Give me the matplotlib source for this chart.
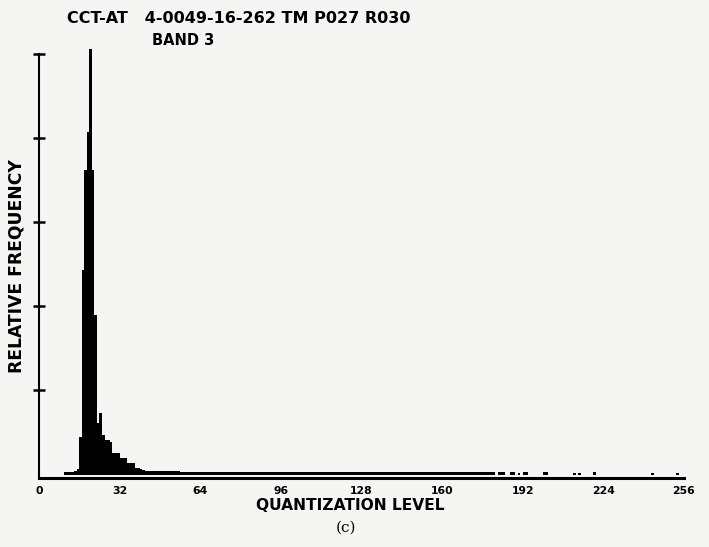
import numpy as np
import matplotlib.pyplot as plt

# relative frequency for each quantization level, 0..255 (16 per row)
freq = [
    0, 0, 0, 0, 0, 0, 0, 0, 0, 0, 0.006, 0.006, 0.006, 0.007, 0.008, 0.014,
    0.089, 0.486, 0.724, 0.815, 1.012, 0.724, 0.379, 0.122, 0.146, 0.094, 0.082, 0.082, 0.077, 0.051, 0.051, 0.051,
    0.039, 0.039, 0.039, 0.027, 0.027, 0.027, 0.015, 0.015, 0.013, 0.012, 0.009, 0.009, 0.008, 0.008, 0.008, 0.008,
    0.008, 0.008, 0.008, 0.008, 0.008, 0.008, 0.008, 0.008, 0.007, 0.007, 0.007, 0.007, 0.007, 0.007, 0.007, 0.007,
    0.007, 0.007, 0.007, 0.007, 0.007, 0.007, 0.007, 0.007, 0.006, 0.006, 0.006, 0.006, 0.006, 0.006, 0.006, 0.006,
    0.006, 0.006, 0.006, 0.006, 0.006, 0.006, 0.006, 0.006, 0.006, 0.006, 0.006, 0.006, 0.006, 0.006, 0.006, 0.006,
    0.006, 0.006, 0.006, 0.006, 0.006, 0.006, 0.006, 0.006, 0.006, 0.006, 0.006, 0.006, 0.006, 0.006, 0.006, 0.006,
    0.006, 0.006, 0.006, 0.006, 0.006, 0.006, 0.006, 0.006, 0.006, 0.006, 0.006, 0.006, 0.006, 0.006, 0.006, 0.006,
    0.006, 0.006, 0.006, 0.006, 0.006, 0.006, 0.006, 0.006, 0.006, 0.006, 0.006, 0.006, 0.006, 0.006, 0.006, 0.006,
    0.006, 0.006, 0.006, 0.006, 0.006, 0.006, 0.006, 0.006, 0.006, 0.006, 0.006, 0.006, 0.006, 0.006, 0.006, 0.006,
    0.007, 0.007, 0.007, 0.007, 0.007, 0.007, 0.007, 0.007, 0.007, 0.007, 0.007, 0.007, 0.007, 0.007, 0.007, 0.007,
    0.007, 0.007, 0.007, 0.007, 0.007, 0, 0.005, 0.005, 0.005, 0, 0, 0.005, 0.005, 0, 0.004, 0,
    0.005, 0.005, 0, 0, 0, 0, 0, 0, 0.005, 0.005, 0, 0, 0, 0, 0, 0,
    0, 0, 0, 0, 0.004, 0, 0.004, 0, 0, 0, 0, 0, 0.005, 0, 0, 0,
    0, 0, 0, 0, 0, 0, 0, 0, 0, 0, 0, 0, 0, 0, 0, 0,
    0, 0, 0, 0.003, 0, 0, 0, 0, 0, 0, 0, 0, 0, 0.003, 0, 0,
]
levels = np.arange(len(freq))

x_ticks = [0, 32, 64, 96, 128, 160, 192, 224, 256]
y_ticks = [0.2, 0.4, 0.6, 0.8, 1.0]

paper = '#f5f5f3'

fig = plt.figure(figsize=(7.09, 5.47), dpi=100, facecolor=paper)
ax = fig.add_axes([0.055, 0.127, 0.9097, 0.7972], facecolor=paper)

ax.bar(levels, freq, width=1.0, align='edge', color='black', linewidth=0)

ax.set_xlim(0, 256)
ax.set_ylim(-0.007, 1.03)

for side in ['top', 'right']:
    ax.spines[side].set_visible(False)
ax.spines['left'].set_bounds(-0.007, 1.0)
ax.spines['left'].set_linewidth(1.5)
ax.spines['bottom'].set_linewidth(2.2)

ax.set_yticks(y_ticks)
ax.set_yticklabels([])
ax.tick_params(axis='y', direction='inout', length=9, width=1.8)

ax.set_xticks(x_ticks)
ax.set_xticklabels([str(t) for t in x_ticks], fontsize=7.8, fontweight='bold')
ax.tick_params(axis='x', length=0, pad=6)

# axis titles placed by hand, the x one sits left of the axis centre
fig.text(350 / 709, 1 - 506 / 547, 'QUANTIZATION LEVEL', fontsize=11.2,
         fontweight='bold', ha='center', va='center')
fig.text(17 / 709, 1 - 266 / 547, 'RELATIVE FREQUENCY', fontsize=12.3,
         fontweight='bold', rotation=90, ha='center', va='center')

fig.text(67 / 709, 1 - 23 / 547, 'CCT-AT   4-0049-16-262 TM P027 R030',
         fontsize=11.5, fontweight='bold', ha='left', va='baseline')
fig.text(152 / 709, 1 - 45 / 547, 'BAND 3', fontsize=10.5, fontweight='bold',
         ha='left', va='baseline')
fig.text(346 / 709, 1 - 528 / 547, '(c)', fontsize=11, family='DejaVu Serif',
         ha='center', va='center')

fig.savefig('out.png', dpi=100, facecolor=paper)
